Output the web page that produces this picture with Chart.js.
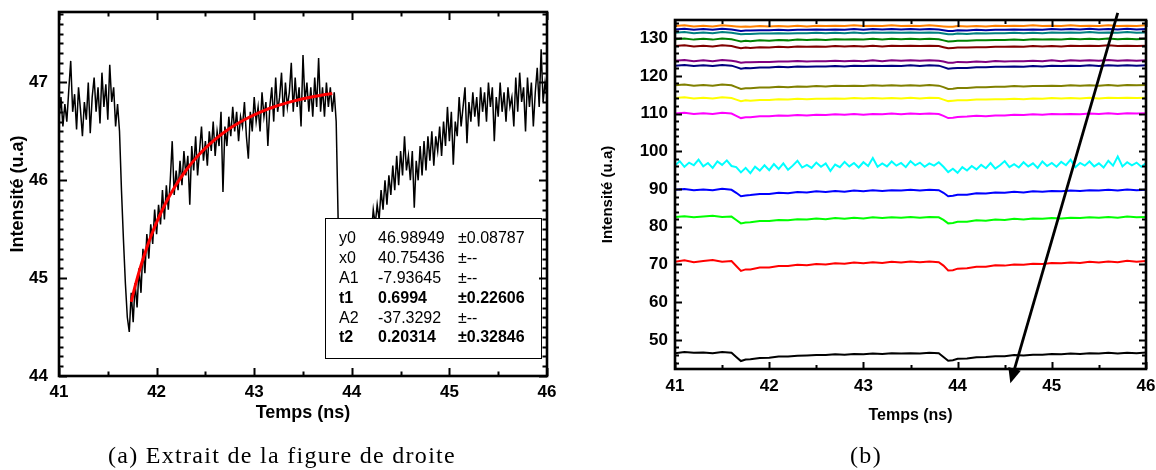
<!DOCTYPE html>
<html><head><meta charset="utf-8">
<script src="https://cdn.jsdelivr.net/npm/chart.js@4.4.1/dist/chart.umd.min.js"></script>
<style>
html,body{margin:0;padding:0;background:#fff;}
body{width:1156px;height:470px;position:relative;overflow:hidden;}
#wa{position:absolute;left:0;top:0;width:580px;height:470px;}
#wb{position:absolute;left:580px;top:0;width:576px;height:470px;}
.cap{position:absolute;font-family:"Liberation Serif","DejaVu Serif",serif;font-size:24px;letter-spacing:1.3px;color:#000;white-space:nowrap;transform:translateX(-50%);line-height:28px;}
</style></head><body>
<div id="wa"><canvas id="ca" width="580" height="470"></canvas></div>
<div id="wb"><canvas id="cb" width="576" height="470"></canvas></div>
<div class="cap" style="left:282px;top:441px">(a) Extrait de la figure de droite</div>
<div class="cap" style="left:866px;top:441px">(b)</div>
<script>
// ---------- Panel (a) data ----------
const timeStartA = 41.0, timeStepA = 0.02;
const intensityA = [
46.62,46.85,46.55,46.78,46.60,46.92,47.22,46.70,46.88,46.52,46.95,46.72,46.45,46.80,46.62,47.00,46.48,46.85,47.05,46.70,46.95,46.58,47.10,46.75,46.98,
46.62,47.18,46.80,46.95,46.55,46.78,46.50,45.90,45.40,44.95,44.60,44.45,44.85,44.55,44.95,44.70,45.10,44.85,45.30,45.05,45.45,45.20,45.55,45.35,45.70,
45.45,45.75,45.55,45.90,45.60,45.95,45.70,46.00,46.40,45.85,46.10,45.90,46.20,45.95,46.30,46.05,46.25,45.75,46.35,46.10,46.45,46.05,46.30,46.55,46.20,
46.40,46.15,46.50,46.30,46.60,46.25,46.50,46.35,46.70,45.88,46.55,46.35,46.65,46.45,46.75,46.50,46.70,46.40,46.65,46.55,46.80,46.45,46.22,46.70,46.50,
46.85,46.60,46.75,46.50,46.90,46.65,46.80,46.35,46.75,46.95,46.60,47.05,46.70,46.85,47.10,46.65,47.00,46.75,46.90,47.20,46.70,47.05,46.75,46.95,46.55,
47.28,46.80,47.00,46.70,46.95,46.65,47.05,46.75,47.25,46.70,46.95,46.65,47.00,46.75,46.95,46.70,46.90,46.60,45.60,44.90,44.55,44.40,44.60,44.50,44.80,
44.70,44.95,44.85,45.10,45.00,45.25,45.15,45.40,45.30,45.55,45.45,45.70,45.55,45.75,45.60,45.90,45.70,46.00,45.75,46.05,45.85,46.15,45.90,46.25,45.95,
46.30,46.05,46.45,46.10,46.25,46.00,46.30,45.72,46.20,46.00,46.35,46.05,46.40,46.10,46.45,46.20,46.50,46.15,46.45,46.30,46.55,46.25,46.60,46.35,46.75,
46.40,46.70,46.16,46.60,46.45,46.85,46.55,46.75,46.95,46.38,46.80,46.60,46.90,46.65,46.85,46.55,46.95,46.70,46.90,46.60,47.00,46.75,46.95,46.40,46.85,
46.65,47.00,46.70,46.90,46.60,46.95,46.75,46.85,46.55,47.05,46.70,47.10,46.80,46.95,46.50,47.05,46.75,47.00,46.55,46.90,47.15,46.75,47.34,46.80,47.00,
46.85
];
const fitTimesA  = [41.74,41.77,41.80,41.85,41.90,41.95,42.00,42.10,42.20,42.30,42.40,42.50,42.60,42.70,42.80,42.90,43.00,43.10,43.20,43.30,43.40,43.50,43.60,43.70,43.80];
const fitValuesA = [44.758,44.880,44.993,45.163,45.314,45.449,45.571,45.781,45.955,46.100,46.224,46.329,46.418,46.496,46.562,46.619,46.669,46.712,46.749,46.781,46.809,46.833,46.854,46.872,46.888];
const xTicksA = [41,42,43,44,45,46];
const yTicksA = [44,45,46,47];
const fitParamNames  = ['y0','x0','A1','t1','A2','t2'];
const fitParamValues = ['46.98949','40.75436','-7.93645','0.6994','-37.3292','0.20314'];
const fitParamErrors = ['\u00b10.08787','\u00b1--','\u00b1--','\u00b10.22606','\u00b1--','\u00b10.32846'];
const fitParamBold   = [false,false,false,true,false,true];

// ---------- Panel (b) data ----------
const timesB = [41.0,41.1,41.2,41.3,41.4,41.5,41.6,41.65,41.7,41.75,41.8,41.9,42.0,42.1,42.2,42.3,42.4,42.5,42.6,42.7,42.8,42.9,43.0,43.1,43.2,43.3,43.4,43.5,43.6,43.7,43.8,43.85,43.9,43.95,44.0,44.1,44.2,44.3,44.4,44.5,44.6,44.7,44.8,44.9,45.0,45.1,45.2,45.3,45.4,45.5,45.6,45.7,45.8,45.9,46.0];
const blackB = [46.5,46.8,46.6,46.7,46.5,46.8,46.6,
 45.5,44.4,44.8,44.9,45.2,45.3,45.6,45.6,45.8,45.9,46.0,46.0,46.2,46.1,46.3,46.2,46.4,46.3,46.5,46.4,46.5,46.4,46.6,46.5,
 45.5,44.5,44.6,45.0,45.1,45.4,45.5,45.7,45.7,46.0,45.9,46.1,46.1,46.3,46.2,46.4,46.3,46.5,46.4,46.6,46.4,46.6,46.5,46.7];
const redB = [70.7,71.1,70.6,70.9,71.2,70.7,70.9,
 69.6,68.3,68.7,68.7,69.2,69.2,69.6,69.6,69.9,69.8,70.1,70.0,70.3,70.2,70.5,70.3,70.6,70.4,70.7,70.5,70.8,70.6,70.8,70.6,
 69.7,68.4,68.5,68.9,69.0,69.4,69.4,69.8,69.7,70.0,69.9,70.2,70.1,70.4,70.3,70.5,70.4,70.7,70.5,70.8,70.6,71.0,70.7,70.9];
const greenB = [82.6,82.8,82.5,82.7,82.9,82.6,82.7,
 81.8,80.9,81.1,81.2,81.5,81.5,81.8,81.7,82.0,81.9,82.2,82.0,82.3,82.1,82.4,82.2,82.5,82.3,82.5,82.4,82.6,82.4,82.6,82.5,
 81.8,80.9,81.0,81.3,81.3,81.7,81.6,81.9,81.8,82.1,81.9,82.2,82.1,82.3,82.2,82.4,82.3,82.5,82.4,82.6,82.4,82.7,82.5,82.6];
const blueB = [89.8,90.0,89.7,89.9,89.7,90.1,89.8,
 89.0,88.1,88.3,88.4,88.7,88.7,89.0,88.9,89.2,89.1,89.4,89.2,89.5,89.3,89.6,89.4,89.7,89.5,89.7,89.6,89.8,89.6,89.8,89.7,
 89.0,88.1,88.2,88.5,88.5,88.9,88.8,89.1,89.0,89.3,89.1,89.4,89.3,89.5,89.4,89.6,89.5,89.7,89.6,89.8,89.6,89.9,89.7,89.8];
const cyanStartB = 41.0, cyanStepB = 0.05;
const cyanB = [96.2,97.4,95.9,97.0,96.3,97.8,96.0,96.9,95.6,97.3,96.4,97.6,96.1,
 95.8,94.4,95.6,94.2,95.9,94.9,96.3,95.0,96.6,95.3,96.8,95.1,96.2,97.5,95.7,96.4,95.6,97.0,95.9,96.8,94.8,96.5,95.8,97.2,96.0,96.9,95.7,97.1,96.1,98.2,95.9,96.8,96.0,97.3,96.2,96.9,95.8,97.4,96.3,97.0,95.9,96.8,96.2,97.1,
 95.9,94.5,95.4,94.3,95.8,94.9,96.1,95.2,96.4,95.5,96.9,95.4,96.3,97.4,95.8,96.6,95.7,97.1,96.0,96.8,95.6,97.3,96.1,96.9,95.9,97.2,96.3,97.8,95.8,96.9,96.2,97.3,96.0,96.8,95.7,97.5,96.2,98.6,96.0,97.1,96.3,97.0,95.9,96.9];
const magentaB = [110.0,110.2,109.9,110.1,109.9,110.2,110.0,
 109.4,108.8,109.0,109.0,109.3,109.3,109.5,109.4,109.6,109.5,109.7,109.6,109.8,109.7,109.9,109.7,109.9,109.8,110.0,109.8,110.0,109.9,110.0,109.9,
 109.4,108.8,108.9,109.1,109.2,109.4,109.3,109.5,109.5,109.7,109.6,109.8,109.7,109.9,109.8,109.9,109.8,110.0,109.9,110.1,109.9,110.1,110.0,110.1];
const yellowB = [114.1,114.3,114.0,114.2,114.0,114.3,114.1,
 113.7,113.3,113.5,113.4,113.6,113.6,113.8,113.7,113.9,113.8,113.9,113.9,114.0,113.9,114.1,114.0,114.1,114.0,114.1,114.0,114.2,114.0,114.2,114.1,
 113.7,113.3,113.4,113.5,113.5,113.7,113.7,113.8,113.8,113.9,113.8,114.0,113.9,114.1,114.0,114.1,114.0,114.2,114.0,114.2,114.1,114.2,114.1,114.2];
const oliveB = [117.5,117.7,117.4,117.6,117.4,117.7,117.5,
 117.0,116.5,116.7,116.7,116.9,116.9,117.1,117.0,117.2,117.1,117.3,117.2,117.4,117.3,117.4,117.3,117.5,117.4,117.5,117.4,117.5,117.4,117.6,117.4,
 117.0,116.5,116.6,116.8,116.8,117.0,117.0,117.1,117.1,117.3,117.2,117.3,117.3,117.4,117.3,117.5,117.4,117.5,117.4,117.6,117.4,117.6,117.5,117.6];
const navyB = [122.7,122.9,122.6,122.8,122.6,122.9,122.7,
 122.3,121.9,122.1,122.0,122.2,122.2,122.4,122.3,122.5,122.4,122.5,122.5,122.6,122.5,122.7,122.6,122.7,122.6,122.7,122.6,122.8,122.6,122.8,122.7,
 122.3,121.9,122.0,122.1,122.1,122.3,122.3,122.4,122.4,122.5,122.4,122.6,122.5,122.7,122.6,122.7,122.6,122.8,122.6,122.8,122.7,122.8,122.7,122.8];
const purpleB = [124.0,124.2,123.9,124.1,123.9,124.2,124.0,
 123.8,123.5,123.6,123.6,123.7,123.7,123.8,123.8,123.9,123.8,123.9,123.9,124.0,123.9,124.0,123.9,124.1,123.9,124.1,124.0,124.1,124.0,124.1,124.0,
 123.8,123.5,123.5,123.7,123.6,123.8,123.7,123.9,123.8,123.9,123.9,124.0,123.9,124.1,123.9,124.1,124.0,124.1,124.0,124.2,124.0,124.1,124.0,124.1];
const wineB = [127.9,128.1,127.8,128.0,127.8,128.1,127.9,
 127.6,127.3,127.5,127.4,127.6,127.5,127.7,127.6,127.8,127.7,127.8,127.7,127.9,127.8,127.9,127.8,128.0,127.8,128.0,127.9,128.0,127.9,128.0,127.9,
 127.6,127.3,127.4,127.5,127.5,127.6,127.6,127.7,127.7,127.8,127.7,127.9,127.8,127.9,127.8,128.0,127.9,128.0,127.9,128.1,127.9,128.0,127.9,128.0];
const darkGreenB = [129.7,129.9,129.6,129.8,129.6,129.9,129.7,
 129.4,129.1,129.3,129.2,129.4,129.3,129.5,129.4,129.6,129.5,129.6,129.5,129.7,129.6,129.7,129.6,129.8,129.6,129.8,129.7,129.8,129.7,129.8,129.7,
 129.4,129.1,129.2,129.3,129.3,129.4,129.4,129.5,129.5,129.6,129.5,129.7,129.6,129.7,129.6,129.8,129.7,129.8,129.7,129.9,129.7,129.8,129.7,129.8];
const darkCyanB = [131.4,131.6,131.3,131.5,131.3,131.6,131.4,
 131.2,131.0,131.1,131.1,131.2,131.2,131.3,131.2,131.3,131.3,131.4,131.3,131.4,131.3,131.5,131.3,131.5,131.4,131.5,131.4,131.5,131.4,131.5,131.4,
 131.2,131.0,131.0,131.2,131.1,131.3,131.2,131.3,131.3,131.4,131.3,131.4,131.3,131.5,131.4,131.5,131.4,131.6,131.4,131.5,131.4,131.6,131.4,131.5];
const royalB = [132.3,132.5,132.2,132.4,132.2,132.5,132.3,
 132.1,131.9,132.0,132.0,132.1,132.1,132.2,132.1,132.2,132.2,132.3,132.2,132.3,132.2,132.4,132.2,132.4,132.3,132.4,132.3,132.4,132.3,132.4,132.3,
 132.1,131.9,131.9,132.1,132.0,132.2,132.1,132.2,132.2,132.3,132.2,132.3,132.2,132.4,132.3,132.4,132.3,132.5,132.3,132.4,132.3,132.5,132.3,132.4];
const orangeB = [133.2,133.4,133.1,133.3,133.1,133.4,133.2,
 133.1,133.0,133.1,133.0,133.2,133.1,133.2,133.1,133.3,133.1,133.3,133.2,133.3,133.2,133.4,133.2,133.3,133.2,133.4,133.2,133.3,133.2,133.4,133.2,
 133.1,133.0,133.0,133.2,133.1,133.2,133.1,133.3,133.2,133.3,133.2,133.4,133.2,133.3,133.2,133.4,133.2,133.3,133.2,133.4,133.2,133.3,133.2,133.4];
const xTicksB = [41,42,43,44,45,46];
const yTicksB = [50,60,70,80,90,100,110,120,130];
const arrowTailB = [45.70, 136.7];
const arrowHeadB = [44.56, 38.5];

// ---------- helpers ----------
const FONT = "'Liberation Sans', Arial, Helvetica, sans-serif";
const pts = (xs, ys) => ys.map((v, i) => ({x: xs[i], y: v}));
const ptsStep = (x0, dx, ys) => ys.map((v, i) => ({x: +(x0 + i * dx).toFixed(4), y: v}));

const framePlugin = {
  id: 'frame',
  afterDraw(chart, args, o) {
    const {ctx, chartArea: a, scales: {x, y}} = chart;
    ctx.save();
    ctx.strokeStyle = '#000';
    ctx.lineCap = 'butt';
    ctx.lineWidth = o.tickWidth;
    const eps = 1e-6;
    const xi0 = Math.ceil(x.min / o.xMinor - eps), xi1 = Math.floor(x.max / o.xMinor + eps);
    for (let i = xi0; i <= xi1; i++) {
      const v = i * o.xMinor;
      const major = Math.abs(v / o.xMajor - Math.round(v / o.xMajor)) < 1e-6;
      const L = major ? o.majorLen : o.minorLen;
      const px = Math.round(x.getPixelForValue(v)) + 0.5;
      ctx.beginPath();
      ctx.moveTo(px, a.bottom); ctx.lineTo(px, a.bottom - L);
      ctx.moveTo(px, a.top); ctx.lineTo(px, a.top + L);
      ctx.stroke();
    }
    const yi0 = Math.ceil(y.min / o.yMinor - eps), yi1 = Math.floor(y.max / o.yMinor + eps);
    for (let i = yi0; i <= yi1; i++) {
      const v = i * o.yMinor;
      const major = Math.abs(v / o.yMajor - Math.round(v / o.yMajor)) < 1e-6;
      const L = major ? o.majorLen : o.minorLen;
      const py = Math.round(y.getPixelForValue(v)) + 0.5;
      ctx.beginPath();
      ctx.moveTo(a.left, py); ctx.lineTo(a.left + L, py);
      ctx.moveTo(a.right, py); ctx.lineTo(a.right - L, py);
      ctx.stroke();
    }
    ctx.lineWidth = o.axisWidth;
    ctx.strokeRect(a.left, a.top, a.right - a.left, a.bottom - a.top);
    ctx.restore();
  }
};

const fitBoxPlugin = {
  id: 'fitBox',
  afterDatasetsDraw(chart) {
    const {ctx} = chart;
    const bx = 325, by = 218, bw = 216, bh = 140;
    ctx.save();
    ctx.fillStyle = '#fff';
    ctx.fillRect(bx, by, bw, bh);
    ctx.strokeStyle = '#000'; ctx.lineWidth = 1;
    ctx.strokeRect(bx + 0.5, by + 0.5, bw, bh);
    ctx.fillStyle = '#000';
    ctx.textBaseline = 'middle';
    ctx.textAlign = 'left';
    for (let i = 0; i < fitParamNames.length; i++) {
      ctx.font = (fitParamBold[i] ? 'bold ' : '') + '16px ' + FONT;
      const yy = 239 + i * 19.8;
      ctx.fillText(fitParamNames[i], 339, yy);
      ctx.fillText(fitParamValues[i], 378, yy);
      ctx.fillText(fitParamErrors[i], 458, yy);
    }
    ctx.restore();
  }
};

const arrowPlugin = {
  id: 'arrow',
  afterDraw(chart) {
    const {ctx, scales: {x, y}} = chart;
    const x1 = x.getPixelForValue(arrowTailB[0]), y1 = y.getPixelForValue(arrowTailB[1]);
    const x2 = x.getPixelForValue(arrowHeadB[0]), y2 = y.getPixelForValue(arrowHeadB[1]);
    const ang = Math.atan2(y2 - y1, x2 - x1);
    const hl = 15, hw = 6.5;
    const bxp = x2 - hl * Math.cos(ang), byp = y2 - hl * Math.sin(ang);
    ctx.save();
    ctx.strokeStyle = '#000'; ctx.fillStyle = '#000';
    ctx.lineWidth = 2.8;
    ctx.beginPath(); ctx.moveTo(x1, y1); ctx.lineTo(bxp, byp); ctx.stroke();
    ctx.beginPath();
    ctx.moveTo(x2, y2);
    ctx.lineTo(bxp + hw * Math.sin(ang), byp - hw * Math.cos(ang));
    ctx.lineTo(bxp - hw * Math.sin(ang), byp + hw * Math.cos(ang));
    ctx.closePath(); ctx.fill();
    ctx.restore();
  }
};

function axes(cfg) {
  return {
    x: {
      type: 'linear', min: cfg.xMin, max: cfg.xMax,
      afterFit(s) { s.height = cfg.xHeight; s.paddingLeft = 0; s.paddingRight = 0; },
      afterBuildTicks(s) { s.ticks = cfg.xTicks.map(v => ({value: v})); },
      grid: {display: false, drawTicks: false},
      border: {display: false},
      ticks: {color: '#000', font: {family: FONT, size: cfg.tickSize, weight: 'bold'}, padding: cfg.xPad, maxRotation: 0, autoSkip: false, callback: v => String(v)},
      title: {display: true, text: 'Temps (ns)', color: '#000', font: {family: FONT, size: cfg.xTitleSize, weight: 'bold'}, padding: {top: 0, bottom: cfg.xTitlePad}}
    },
    y: {
      type: 'linear', min: cfg.yMin, max: cfg.yMax,
      afterFit(s) { s.width = cfg.yWidth; s.paddingTop = 0; s.paddingBottom = 0; },
      afterBuildTicks(s) { s.ticks = cfg.yTicks.map(v => ({value: v})); },
      grid: {display: false, drawTicks: false},
      border: {display: false},
      ticks: {color: '#000', font: {family: FONT, size: cfg.tickSize, weight: 'bold'}, padding: cfg.yPad, autoSkip: false, callback: v => String(v)},
      title: {display: true, text: 'Intensité (u.a)', color: '#000', font: {family: FONT, size: cfg.yTitleSize, weight: 'bold'}, padding: {top: cfg.yTitlePad, bottom: 0}}
    }
  };
}

// ---------- Chart (a) ----------
new Chart(document.getElementById('ca'), {
  type: 'line',
  data: {
    datasets: [
      {data: pts(fitTimesA, fitValuesA), borderColor: '#ff0000', borderWidth: 3, pointRadius: 0, cubicInterpolationMode: 'monotone', fill: false},
      {data: ptsStep(timeStartA, timeStepA, intensityA), borderColor: '#000000', borderWidth: 1.5, pointRadius: 0, tension: 0, fill: false}
    ]
  },
  options: {
    responsive: false, animation: false, events: [],
    layout: {padding: {left: 0, right: 33, top: 12, bottom: 0}},
    plugins: {legend: {display: false}, tooltip: {enabled: false}, frame: {xMajor: 1, xMinor: 0.5, yMajor: 1, yMinor: 0.1, majorLen: 8, minorLen: 4.5, tickWidth: 2, axisWidth: 2.6}},
    scales: axes({xMin: 41, xMax: 46, yMin: 44, yMax: 47.72, xTicks: xTicksA, yTicks: yTicksA, xHeight: 94, yWidth: 59,
      tickSize: 17, xPad: 6, yPad: 11, xTitleSize: 18, xTitlePad: 46, yTitleSize: 18, yTitlePad: 7})
  },
  plugins: [fitBoxPlugin, framePlugin]
});

// ---------- Chart (b) ----------
const seriesB = [
  {d: orangeB, c: '#ff8000'}, {d: royalB, c: '#0000a0'}, {d: darkCyanB, c: '#008080'}, {d: darkGreenB, c: '#008000'},
  {d: wineB, c: '#800000'}, {d: purpleB, c: '#800080'}, {d: navyB, c: '#000080'}, {d: oliveB, c: '#808000'},
  {d: yellowB, c: '#ffff00'}, {d: magentaB, c: '#ff00ff'}, {d: blueB, c: '#0000ff'},
  {d: greenB, c: '#00ff00'}, {d: redB, c: '#ff0000'}, {d: blackB, c: '#000000'}
];
const dsB = seriesB.map(s => ({data: pts(timesB, s.d), borderColor: s.c, borderWidth: 2, pointRadius: 0, tension: 0, fill: false}));
dsB.splice(10, 0, {data: ptsStep(cyanStartB, cyanStepB, cyanB), borderColor: '#00ffff', borderWidth: 2, pointRadius: 0, tension: 0, fill: false});

new Chart(document.getElementById('cb'), {
  type: 'line',
  data: {datasets: dsB},
  options: {
    responsive: false, animation: false, events: [],
    layout: {padding: {left: 0, right: 10, top: 20, bottom: 0}},
    plugins: {legend: {display: false}, tooltip: {enabled: false}, frame: {xMajor: 1, xMinor: 0.5, yMajor: 10, yMinor: 2, majorLen: 7, minorLen: 4, tickWidth: 2, axisWidth: 2.6}},
    scales: axes({xMin: 41, xMax: 46, yMin: 42.3, yMax: 134.8, xTicks: xTicksB, yTicks: yTicksB, xHeight: 101, yWidth: 95,
      tickSize: 17, xPad: 7, yPad: 7, xTitleSize: 16, xTitlePad: 45, yTitleSize: 15, yTitlePad: 19})
  },
  plugins: [framePlugin, arrowPlugin]
});
</script>
</body></html>
